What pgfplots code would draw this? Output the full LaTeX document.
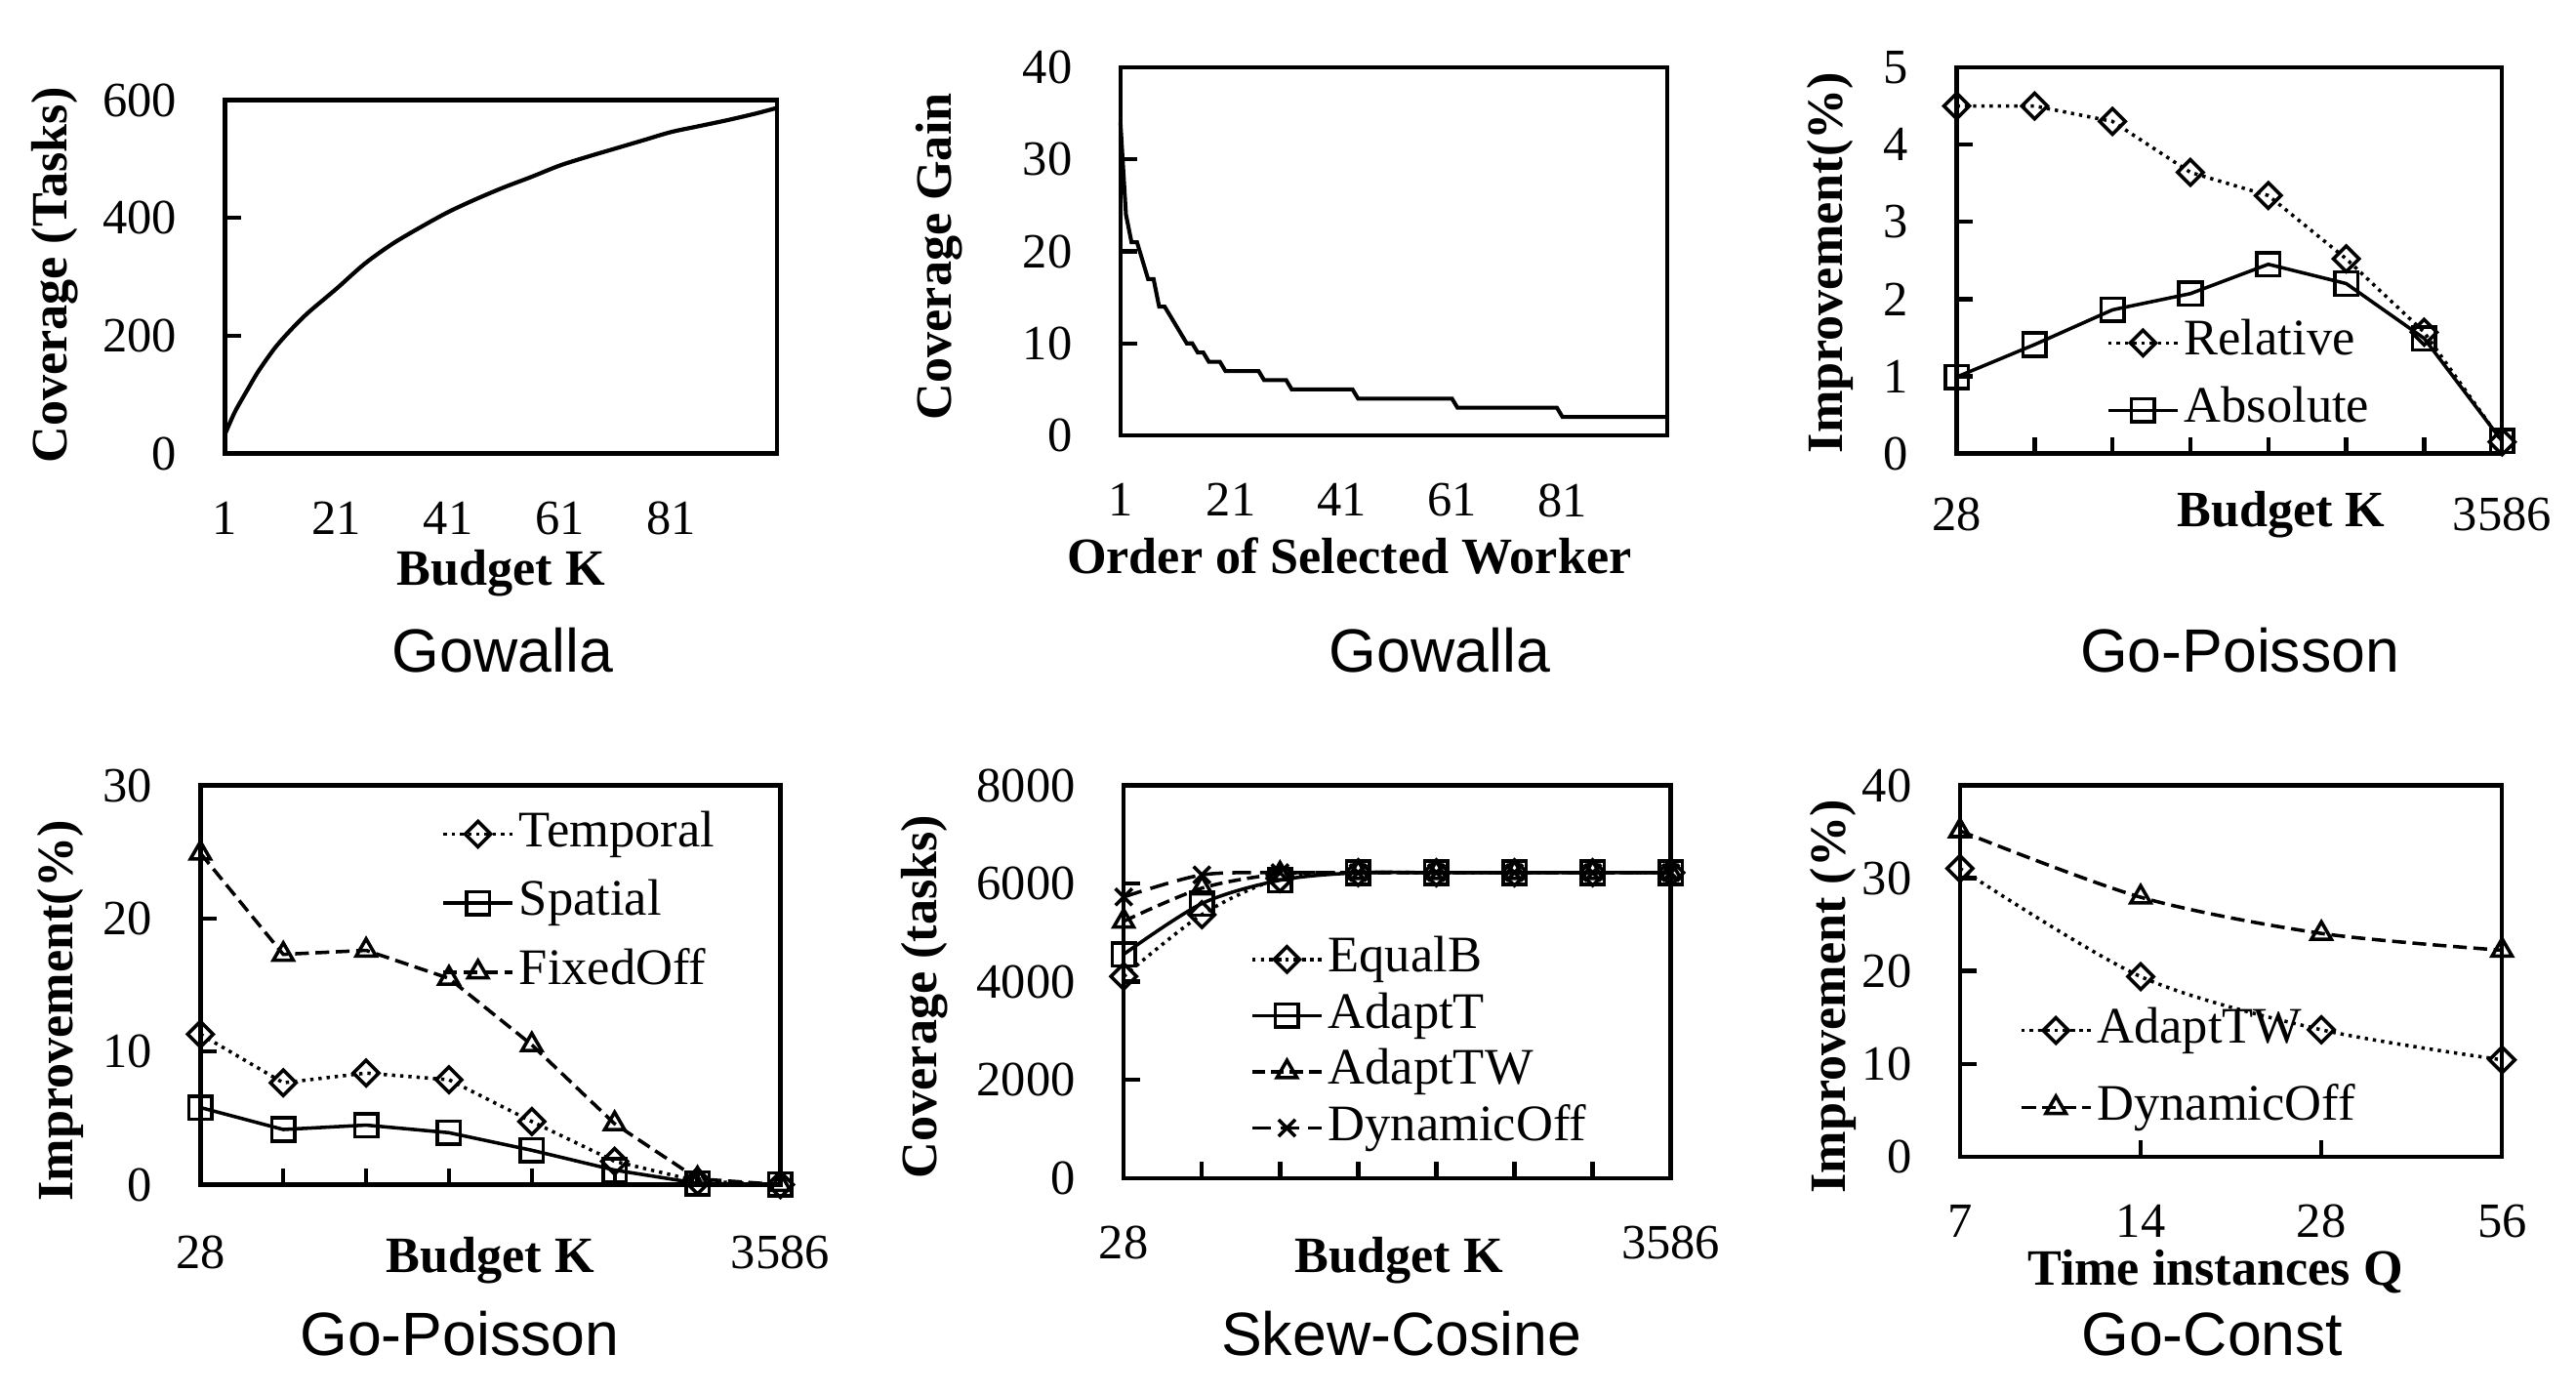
\documentclass[border=0pt]{standalone}
\usepackage{pgfplots}
\pgfplotsset{compat=1.18}
\usepackage{fontspec}
\setmainfont{Liberation Serif}
\newfontfamily\arialfont{Liberation Sans}

\pgfplotsset{
  panel/.style={
    scale only axis, anchor=south west, clip=false,
    axis line style={line width=1.3pt},
    tick style={line width=1.3pt, black},
    major tick length=5pt, tick align=inside, tick pos=left,
    ticklabel style={font=\fontsize{15}{18}\selectfont},
    xticklabel style={anchor=north, inner sep=0pt, yshift=-14.5pt},
    yticklabel style={anchor=east, inner sep=0pt, xshift=-14.5pt},
    label style={font=\bfseries\fontsize{15.5}{18}\selectfont},
    legend style={draw=none, fill=none, inner sep=0pt, anchor=west,
      font=\fontsize{15.6}{18}\selectfont, cells={anchor=west},
      nodes={inner sep=1.5pt, text height=11pt, text depth=3.5pt}},
    legend image code/.code={
      \draw[mark repeat=2, mark phase=2, #1]
        plot coordinates {(0pt,0pt) (10.5pt,0pt) (21pt,0pt)};},
    every axis plot/.append style={line width=1.05pt, black},
  },
  dia/.style={mark=square, mark size=2.75pt, mark options={solid, rotate=45}},
  sqr/.style={mark=square, mark size=3.5pt, mark options={solid}},
  tri/.style={mark=triangle, mark size=3.5pt, mark options={solid}},
  crs/.style={mark=x, mark size=3.6pt, mark options={solid}},
  dotl/.style={dash pattern=on 1pt off 1.5pt},
  dashl/.style={dash pattern=on 4.2pt off 2pt},
  longdash/.style={dash pattern=on 5.7pt off 2.8pt},
}
\tikzset{subtitle/.style={anchor=base, font=\arialfont\fontsize{18.6}{20}\selectfont}}

\begin{document}
\begin{tikzpicture}
\path[use as bounding box] (0pt,0pt) rectangle (784pt,-424.5pt);

% ---- top left: coverage vs budget
\begin{axis}[panel, at={(68.5pt,-138pt)}, width=168pt, height=107.5pt,
  xmin=1, xmax=100, ymin=0, ymax=600,
  xtick={1,21,41,61,81}, xticklabels={1,21,41,61,81}, xtick style={draw=none},
  ytick={0,200,400,600}, yticklabels={0,200,400,600},
  xlabel={Budget K}, ylabel={Coverage (Tasks)},
  xlabel style={at={(axis description cs:0.5,0)}, anchor=base, yshift=-40pt},
  ylabel style={at={(axis description cs:-0.309,0.504)}, anchor=center}]
\addplot[smooth, line width=1.25pt] coordinates {
  (1,33) (2,55) (3,75) (5,108) (7,140) (10,180) (13,212) (16,240)
  (21,280) (26,322) (31,356) (36,384) (41,410) (46,432) (51,452)
  (56,470) (61,489) (66,504) (71,518) (76,532) (81,546) (86,556)
  (91,566) (96,577) (100,587)};
\end{axis}

% ---- top middle: coverage gain
\begin{axis}[panel, at={(341pt,-132.5pt)}, width=166.5pt, height=112pt,
  xmin=1, xmax=100, ymin=0, ymax=40,
  xtick={1,21,41,61,81}, xticklabels={1,21,41,61,81}, xtick style={draw=none},
  ytick={0,10,20,30,40}, yticklabels={0,10,20,30,40},
  xlabel={Order of Selected Worker}, ylabel={Coverage Gain},
  xlabel style={at={(axis description cs:0.5,0)}, anchor=base, xshift=-13.6pt, yshift=-42pt},
  ylabel style={at={(axis description cs:-0.332,0.486)}, anchor=center}]
\addplot[line width=1.2pt] coordinates {
  (1,34) (2,24) (3,21) (4,21) (5,19) (6,17) (7,17) (8,14) (9,14)
  (10,13) (11,12) (12,11) (13,10) (14,10) (15,9) (16,9) (17,8) (19,8)
  (20,7) (26,7) (27,6) (31,6) (32,5) (43,5) (44,4) (61,4) (62,3)
  (80,3) (81,2) (100,2)};
\end{axis}

% ---- top right: relative / absolute
\begin{axis}[panel, at={(595.5pt,-138pt)}, width=166pt, height=117.5pt,
  xmin=0, xmax=7, ymin=0, ymax=5,
  xtick={0,...,7}, xticklabels={28,,,,,,,3586},
  xticklabel style={yshift=1.1pt},
  ytick={0,1,2,3,4,5}, yticklabels={0,1,2,3,4,5},
  xlabel={Budget K}, ylabel={Improvement(\%)},
  xlabel style={at={(axis description cs:0.5,0)}, anchor=base, xshift=15.7pt, yshift=-22.3pt},
  ylabel style={at={(axis description cs:-0.232,0.494)}, anchor=center},
  legend style={at={(0.274,0.199)}, row sep=3pt}]
\addplot[dotl, dia] coordinates {
  (0,4.50) (1,4.50) (2,4.30) (3,3.64) (4,3.34) (5,2.52) (6,1.57) (7,0.15)};
\addplot[sqr] coordinates {
  (0,0.99) (1,1.41) (2,1.86) (3,2.07) (4,2.45) (5,2.20) (6,1.49) (7,0.16)};
\legend{Relative, Absolute}
\end{axis}

% ---- bottom left: temporal / spatial / fixedoff
\begin{axis}[panel, at={(61pt,-360.5pt)}, width=176.5pt, height=121.5pt,
  xmin=0, xmax=7, ymin=0, ymax=30,
  xtick={0,...,7}, xticklabels={28,,,,,,,3586},
  xticklabel style={yshift=-0.8pt},
  ytick={0,10,20,30}, yticklabels={0,10,20,30},
  xlabel={Budget K}, ylabel={Improvement(\%)},
  xlabel style={at={(axis description cs:0.5,0)}, anchor=base, yshift=-26.8pt},
  ylabel style={at={(axis description cs:-0.242,0.435)}, anchor=center},
  legend style={at={(0.415,0.705)}, row sep=3.5pt}]
\addplot[dotl, dia] coordinates {
  (0,11.3) (1,7.65) (2,8.38) (3,7.88) (4,4.74) (5,1.75) (6,0.26) (7,0)};
\addplot[sqr] coordinates {
  (0,5.79) (1,4.14) (2,4.47) (3,3.9) (4,2.58) (5,1.09) (6,0.1) (7,0)};
\addplot[dashl, tri] coordinates {
  (0,24.9) (1,17.3) (2,17.6) (3,15.5) (4,10.5) (5,4.57) (6,0.43) (7,0)};
\legend{Temporal, Spatial, FixedOff}
\end{axis}

% ---- bottom middle: coverage, skew-cosine
\begin{axis}[panel, at={(342pt,-358.5pt)}, width=166.5pt, height=119.5pt,
  xmin=0, xmax=7, ymin=0, ymax=8000,
  xtick={0,...,7}, xticklabels={28,,,,,,,3586},
  ytick={0,2000,4000,6000,8000}, yticklabels={0,2000,4000,6000,8000},
  xlabel={Budget K}, ylabel={Coverage (tasks)},
  xlabel style={at={(axis description cs:0.5,0)}, anchor=base, xshift=0.6pt, yshift=-28.8pt},
  ylabel style={at={(axis description cs:-0.364,0.462)}, anchor=center},
  legend style={at={(0.231,0.342)}, row sep=-0.4pt}]
\addplot[dotl, dia, smooth] coordinates {
  (0,4108) (1,5367) (2,6104) (3,6221) (4,6221) (5,6221) (6,6221) (7,6221)};
\addplot[sqr, smooth] coordinates {
  (0,4558) (1,5592) (2,6068) (3,6221) (4,6221) (5,6221) (6,6221) (7,6221)};
\addplot[dash pattern=on 3.8pt off 1.9pt, tri, smooth] coordinates {
  (0,5232) (1,5906) (2,6194) (3,6221) (4,6221) (5,6221) (6,6221) (7,6221)};
\addplot[longdash, crs, smooth] coordinates {
  (0,5727) (1,6176) (2,6221) (3,6221) (4,6221) (5,6221) (6,6221) (7,6221)};
\legend{EqualB, AdaptT, AdaptTW, DynamicOff}
\end{axis}

% ---- bottom right: time instances
\begin{axis}[panel, at={(596.5pt,-352pt)}, width=165pt, height=113pt,
  xmin=0, xmax=3, ymin=0, ymax=40,
  xtick={0,1,2,3}, xticklabels={7,14,28,56},
  ytick={0,10,20,30,40}, yticklabels={0,10,20,30,40},
  xlabel={Time instances Q}, ylabel={Improvement (\%)},
  xlabel style={at={(axis description cs:0.5,0)}, anchor=base, xshift=-4.8pt, yshift=-39pt},
  ylabel style={at={(axis description cs:-0.234,0.431)}, anchor=center},
  legend style={at={(0.109,0.236)}, row sep=6pt}]
\addplot[dotl, dia, smooth] coordinates {
  (0,31.05) (1,19.4) (2,13.67) (3,10.43)};
\addplot[dashl, tri, smooth] coordinates {
  (0,35.1) (1,27.95) (2,24.05) (3,22.24)};
\legend{AdaptTW, DynamicOff}
\end{axis}

\node[subtitle] at (153pt,-204.5pt) {Gowalla};
\node[subtitle] at (438.2pt,-204.5pt) {Gowalla};
\node[subtitle] at (681.7pt,-204.5pt) {Go-Poisson};
\node[subtitle] at (139.9pt,-412.5pt) {Go-Poisson};
\node[subtitle] at (426.5pt,-412.5pt) {Skew-Cosine};
\node[subtitle] at (673.3pt,-412.5pt) {Go-Const};
\end{tikzpicture}
\end{document}
